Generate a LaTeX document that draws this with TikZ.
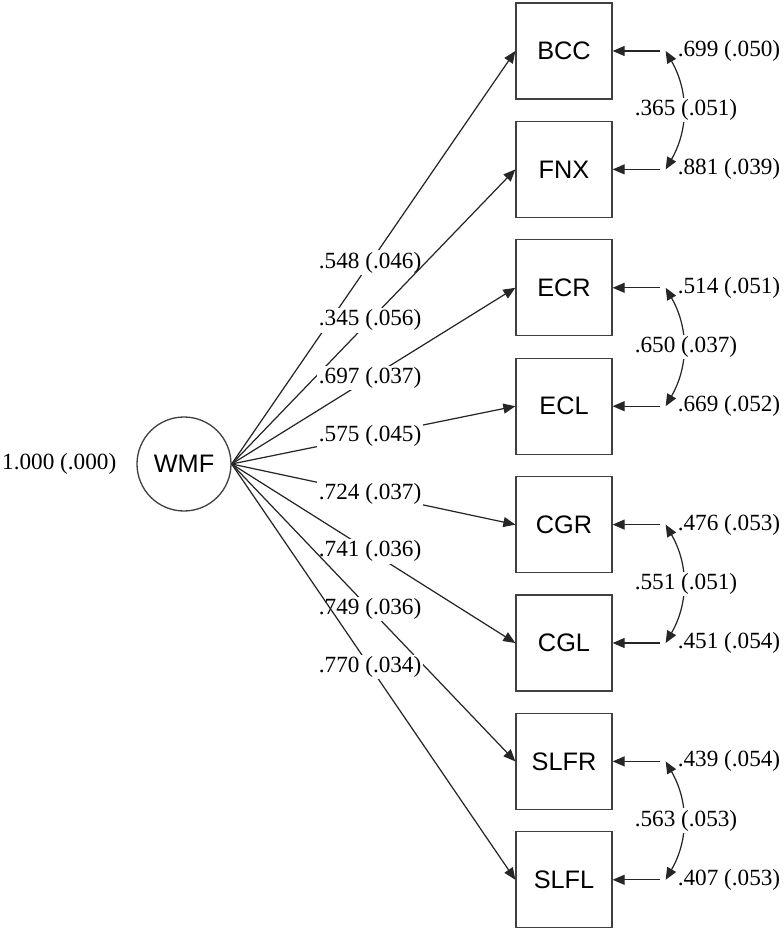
\documentclass[tikz,border=0pt]{standalone}
\usepackage{fontspec}
\setmainfont{Liberation Serif}
\setsansfont{Liberation Sans}
\usetikzlibrary{arrows.meta,positioning}

\tikzset{
  obs/.style={draw=black!75, line width=0.75pt, minimum width=1.92cm,
    minimum height=1.92cm, inner sep=0pt, font=\fontsize{14.4}{17}\sffamily},
  lat/.style={circle, draw=black!75, line width=0.75pt, minimum size=1.88cm,
    inner sep=0pt, font=\fontsize{14.4}{17}\sffamily},
  est/.style={font=\fontsize{13.2}{16}\selectfont, inner sep=1pt},
  arr/.style={-{Triangle[length=0.24cm,width=0.2cm]}, line width=0.7pt, draw=black!85},
  dbl/.style={{Triangle[length=0.24cm,width=0.2cm]}-{Triangle[length=0.24cm,width=0.2cm]},
    line width=0.7pt, draw=black!85}
}

\begin{document}
\begin{tikzpicture}
  \useasboundingbox (0,0) rectangle (15.68,-18.62);

  \node[lat] (wmf) at (3.68,-9.28) {WMF};
  \node[est, left=0.36cm of wmf] (wmfvar) {1.000 (.000)};

  \foreach \name [count=\i] in {BCC,FNX,ECR,ECL,CGR,CGL,SLFR,SLFL} {
    \node[obs] (\name) at (11.28,{-1.02-2.368*(\i-1)}) {\name};
  }

  % loadings
  \foreach \name/\val in {BCC/.548 (.046), FNX/.345 (.056), ECR/.697 (.037),
      ECL/.575 (.045), CGR/.724 (.037), CGL/.741 (.036), SLFR/.749 (.036),
      SLFL/.770 (.034)} {
    \draw[arr] (wmf.east) -- node[est, fill=white, pos=0.488] {\val} (\name.west);
  }

  % residual variances
  \foreach \name/\val in {BCC/.699 (.050), FNX/.881 (.039), ECR/.514 (.051),
      ECL/.669 (.052), CGR/.476 (.053), CGL/.451 (.054), SLFR/.439 (.054),
      SLFL/.407 (.053)} {
    \coordinate (e\name) at ([xshift=1.06cm]\name.east);
    \draw[arr, shorten <=0.12cm] (e\name) -- (\name.east);
    \node[est, anchor=west, xshift=0.2cm] (v\name) at (e\name) {\val};
  }

  % residual covariances
  \foreach \a/\b/\val in {BCC/FNX/.365 (.051), ECR/ECL/.650 (.037),
      CGR/CGL/.551 (.051), SLFR/SLFL/.563 (.053)} {
    \draw[dbl] (e\a) to[bend left=30] node[est, fill=white, xshift=0.06cm] {\val} (e\b);
  }
\end{tikzpicture}
\end{document}
